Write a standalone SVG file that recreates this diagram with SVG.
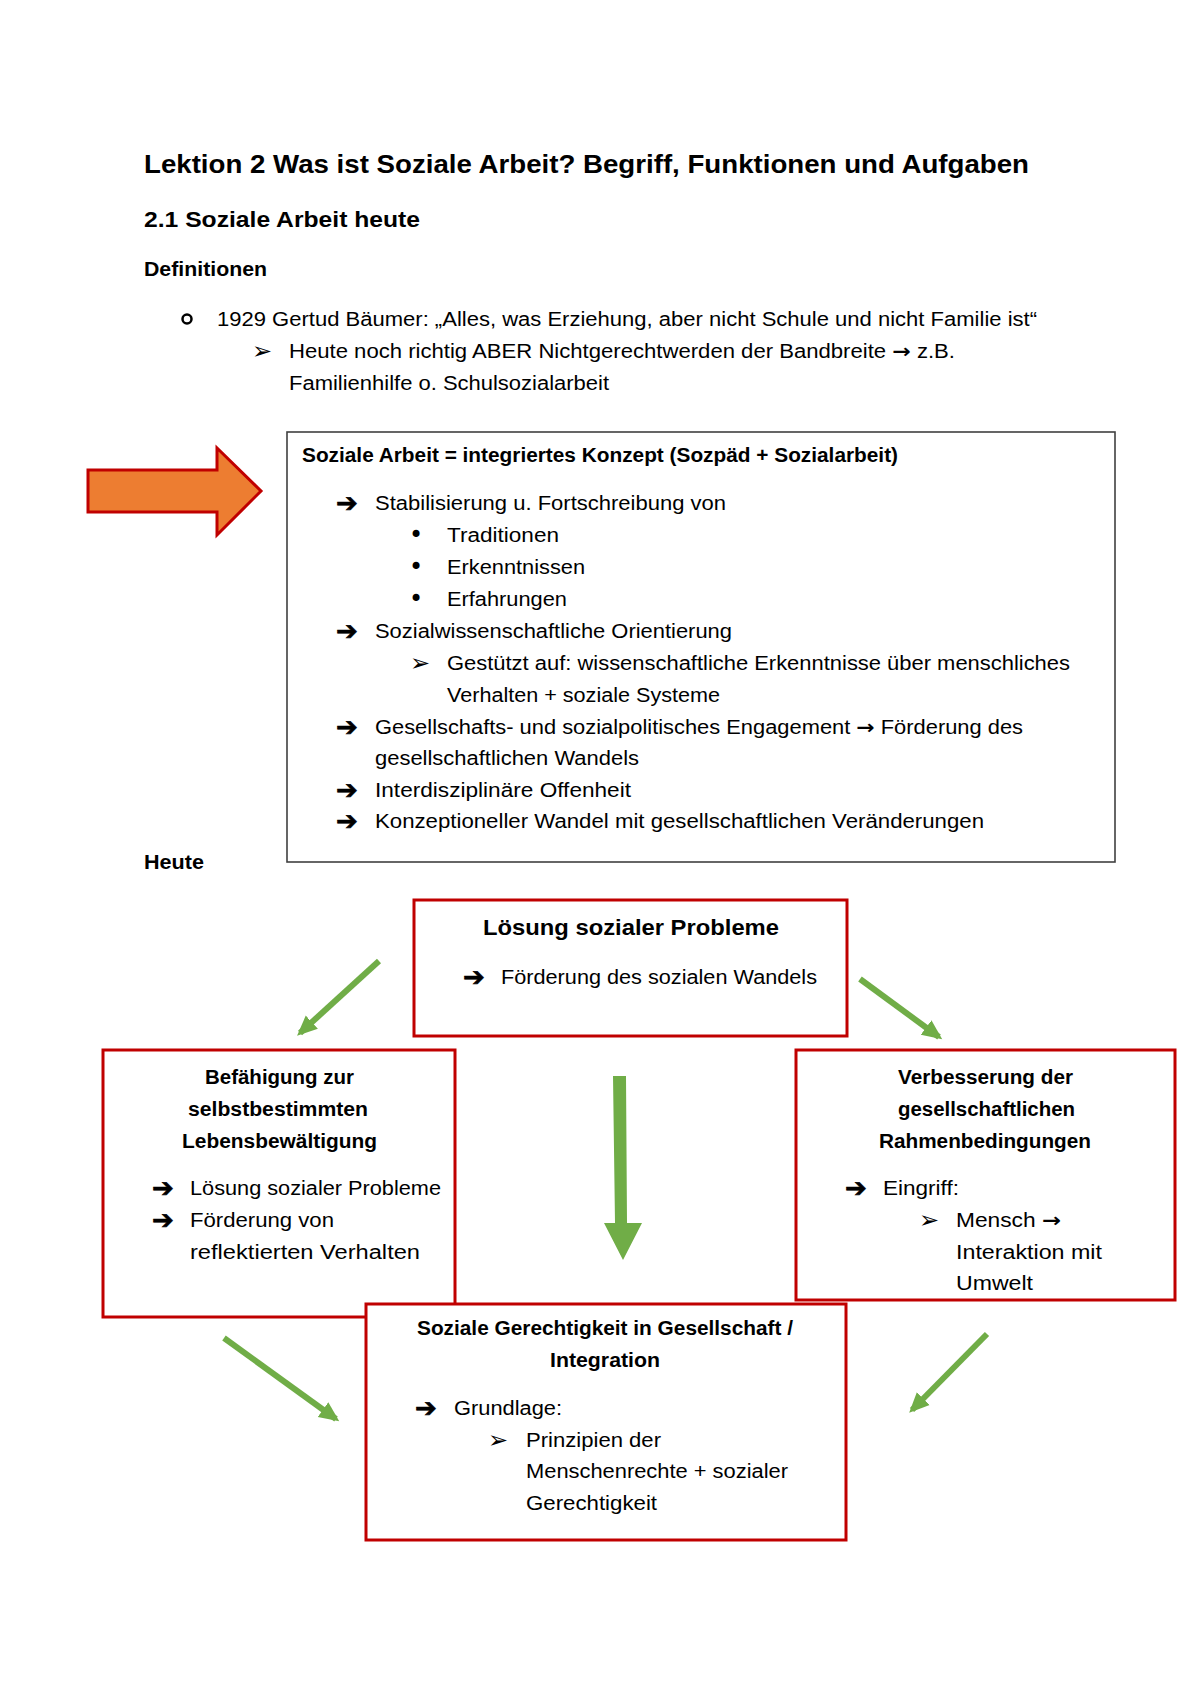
<svg xmlns="http://www.w3.org/2000/svg" width="1200" height="1698" viewBox="0 0 1200 1698">
<style>
text{font-family:"Liberation Sans",Arial,sans-serif;fill:#000}
.t{font-size:19.5px}
.b{font-weight:bold}
.h1{font-size:25px;font-weight:bold}
.h2{font-size:21.5px;font-weight:bold}
.sym{font-family:"DejaVu Sans",sans-serif;font-size:26px;stroke:#000;stroke-width:0.7}
.tri{font-family:"DejaVu Sans",sans-serif;font-size:24px}
.ar{font-family:"DejaVu Sans",sans-serif;font-weight:bold}
.blt{font-family:"DejaVu Sans",sans-serif;font-size:24px}
.redbox{fill:#fff;stroke:#C00000;stroke-width:3}
.green{stroke:#70AD47;stroke-width:6;fill:none}
</style>
<defs>
<marker id="gh" markerUnits="userSpaceOnUse" markerWidth="22" markerHeight="22" viewBox="0 0 22 22" refX="16" refY="11" orient="auto">
<path d="M0,2 L20,11 L0,20 Z" fill="#70AD47"/>
</marker>
</defs>
<rect width="1200" height="1698" fill="#fff"/>

<g id="header">
<text class="h1" x="144" y="173" textLength="885" lengthAdjust="spacingAndGlyphs">Lektion 2 Was ist Soziale Arbeit? Begriff, Funktionen und Aufgaben</text>
<text class="h2" x="144" y="227" textLength="276" lengthAdjust="spacingAndGlyphs">2.1 Soziale Arbeit heute</text>
<text class="t b" x="144" y="276" textLength="123" lengthAdjust="spacingAndGlyphs">Definitionen</text>
<circle cx="187" cy="319" r="4.5" fill="none" stroke="#000" stroke-width="2.5"/>
<text class="t" x="217" y="326" textLength="820" lengthAdjust="spacingAndGlyphs">1929 Gertud Bäumer: „Alles, was Erziehung, aber nicht Schule und nicht Familie ist“</text>
<text class="tri" x="252" y="359">➢</text>
<text class="t" x="289" y="358" textLength="666" lengthAdjust="spacingAndGlyphs">Heute noch richtig ABER Nichtgerechtwerden der Bandbreite <tspan class="ar">→</tspan> z.B.</text>
<text class="t" x="289" y="390" textLength="320" lengthAdjust="spacingAndGlyphs">Familienhilfe o. Schulsozialarbeit</text>
</g>

<g id="orange-arrow">
<path d="M88,470 L217,470 L217,448 L261,491 L217,535 L217,512 L88,512 Z" fill="#ED7D31" stroke="#C00000" stroke-width="3" stroke-linejoin="miter"/>
</g>

<g id="konzept-box">
<rect x="287" y="432" width="828" height="430" fill="#fff" stroke="#404040" stroke-width="1.6"/>
<text class="t b" x="302" y="462" textLength="596" lengthAdjust="spacingAndGlyphs">Soziale Arbeit = integriertes Konzept (Sozpäd + Sozialarbeit)</text>
<text class="sym" x="336" y="512">➔</text>
<text class="t" x="375" y="510" textLength="351" lengthAdjust="spacingAndGlyphs">Stabilisierung u. Fortschreibung von</text>
<text class="blt" x="409" y="543">•</text>
<text class="t" x="447" y="542" textLength="112" lengthAdjust="spacingAndGlyphs">Traditionen</text>
<text class="blt" x="409" y="575">•</text>
<text class="t" x="447" y="574" textLength="138" lengthAdjust="spacingAndGlyphs">Erkenntnissen</text>
<text class="blt" x="409" y="607">•</text>
<text class="t" x="447" y="606" textLength="120" lengthAdjust="spacingAndGlyphs">Erfahrungen</text>
<text class="sym" x="336" y="640">➔</text>
<text class="t" x="375" y="638" textLength="357" lengthAdjust="spacingAndGlyphs">Sozialwissenschaftliche Orientierung</text>
<text class="tri" x="410" y="671">➢</text>
<text class="t" x="447" y="670" textLength="623" lengthAdjust="spacingAndGlyphs">Gestützt auf: wissenschaftliche Erkenntnisse über menschliches</text>
<text class="t" x="447" y="702" textLength="273" lengthAdjust="spacingAndGlyphs">Verhalten + soziale Systeme</text>
<text class="sym" x="336" y="736">➔</text>
<text class="t" x="375" y="734" textLength="648" lengthAdjust="spacingAndGlyphs">Gesellschafts- und sozialpolitisches Engagement <tspan class="ar">→</tspan> Förderung des</text>
<text class="t" x="375" y="765" textLength="264" lengthAdjust="spacingAndGlyphs">gesellschaftlichen Wandels</text>
<text class="sym" x="336" y="799">➔</text>
<text class="t" x="375" y="797" textLength="256" lengthAdjust="spacingAndGlyphs">Interdisziplinäre Offenheit</text>
<text class="sym" x="336" y="830">➔</text>
<text class="t" x="375" y="828" textLength="609" lengthAdjust="spacingAndGlyphs">Konzeptioneller Wandel mit gesellschaftlichen Veränderungen</text>
</g>

<g id="heute-label">
<text class="t b" x="144" y="869" textLength="60" lengthAdjust="spacingAndGlyphs">Heute</text>
</g>

<g id="node-loesung">
<rect class="redbox" x="414" y="900" width="433" height="136"/>
<text class="h2" x="483" y="935" textLength="296" lengthAdjust="spacingAndGlyphs">Lösung sozialer Probleme</text>
<text class="sym" x="463" y="986">➔</text>
<text class="t" x="501" y="984" textLength="316" lengthAdjust="spacingAndGlyphs">Förderung des sozialen Wandels</text>
</g>

<g id="node-befaehigung">
<rect class="redbox" x="103" y="1050" width="352" height="267"/>
<text class="t b" x="205" y="1084" textLength="149" lengthAdjust="spacingAndGlyphs">Befähigung zur</text>
<text class="t b" x="188" y="1116" textLength="180" lengthAdjust="spacingAndGlyphs">selbstbestimmten</text>
<text class="t b" x="182" y="1148" textLength="195" lengthAdjust="spacingAndGlyphs">Lebensbewältigung</text>
<text class="sym" x="152" y="1197">➔</text>
<text class="t" x="190" y="1195" textLength="251" lengthAdjust="spacingAndGlyphs">Lösung sozialer Probleme</text>
<text class="sym" x="152" y="1229">➔</text>
<text class="t" x="190" y="1227" textLength="144" lengthAdjust="spacingAndGlyphs">Förderung von</text>
<text class="t" x="190" y="1259" textLength="230" lengthAdjust="spacingAndGlyphs">reflektierten  Verhalten</text>
</g>

<g id="node-verbesserung">
<rect class="redbox" x="796" y="1050" width="379" height="250"/>
<text class="t b" x="898" y="1084" textLength="175" lengthAdjust="spacingAndGlyphs">Verbesserung der</text>
<text class="t b" x="898" y="1116" textLength="177" lengthAdjust="spacingAndGlyphs">gesellschaftlichen</text>
<text class="t b" x="879" y="1148" textLength="212" lengthAdjust="spacingAndGlyphs">Rahmenbedingungen</text>
<text class="sym" x="845" y="1197">➔</text>
<text class="t" x="883" y="1195" textLength="76" lengthAdjust="spacingAndGlyphs">Eingriff:</text>
<text class="tri" x="919" y="1228">➢</text>
<text class="t" x="956" y="1227" textLength="105" lengthAdjust="spacingAndGlyphs">Mensch <tspan class="ar">→</tspan></text>
<text class="t" x="956" y="1259" textLength="146" lengthAdjust="spacingAndGlyphs">Interaktion mit</text>
<text class="t" x="956" y="1290" textLength="77" lengthAdjust="spacingAndGlyphs">Umwelt</text>
</g>

<g id="node-gerechtigkeit">
<rect class="redbox" x="366" y="1304" width="480" height="236"/>
<text class="t b" x="417" y="1335" textLength="376" lengthAdjust="spacingAndGlyphs">Soziale Gerechtigkeit in Gesellschaft /</text>
<text class="t b" x="550" y="1367" textLength="110" lengthAdjust="spacingAndGlyphs">Integration</text>
<text class="sym" x="415" y="1417">➔</text>
<text class="t" x="454" y="1415" textLength="108" lengthAdjust="spacingAndGlyphs">Grundlage:</text>
<text class="tri" x="488" y="1448">➢</text>
<text class="t" x="526" y="1447" textLength="135" lengthAdjust="spacingAndGlyphs">Prinzipien der</text>
<text class="t" x="526" y="1478" textLength="262" lengthAdjust="spacingAndGlyphs">Menschenrechte + sozialer</text>
<text class="t" x="526" y="1510" textLength="131" lengthAdjust="spacingAndGlyphs">Gerechtigkeit</text>
</g>

<g id="connectors">
<line class="green" x1="379" y1="961" x2="300" y2="1033" marker-end="url(#gh)"/>
<line class="green" x1="860" y1="979" x2="939" y2="1037" marker-end="url(#gh)"/>
<path d="M613,1076 L626,1076 L627,1223 L642,1223 L623,1260 L604,1223 L615,1223 Z" fill="#70AD47"/>
<line class="green" x1="224" y1="1338" x2="336" y2="1419" marker-end="url(#gh)"/>
<line class="green" x1="987" y1="1334" x2="912" y2="1410" marker-end="url(#gh)"/>
</g>
</svg>
